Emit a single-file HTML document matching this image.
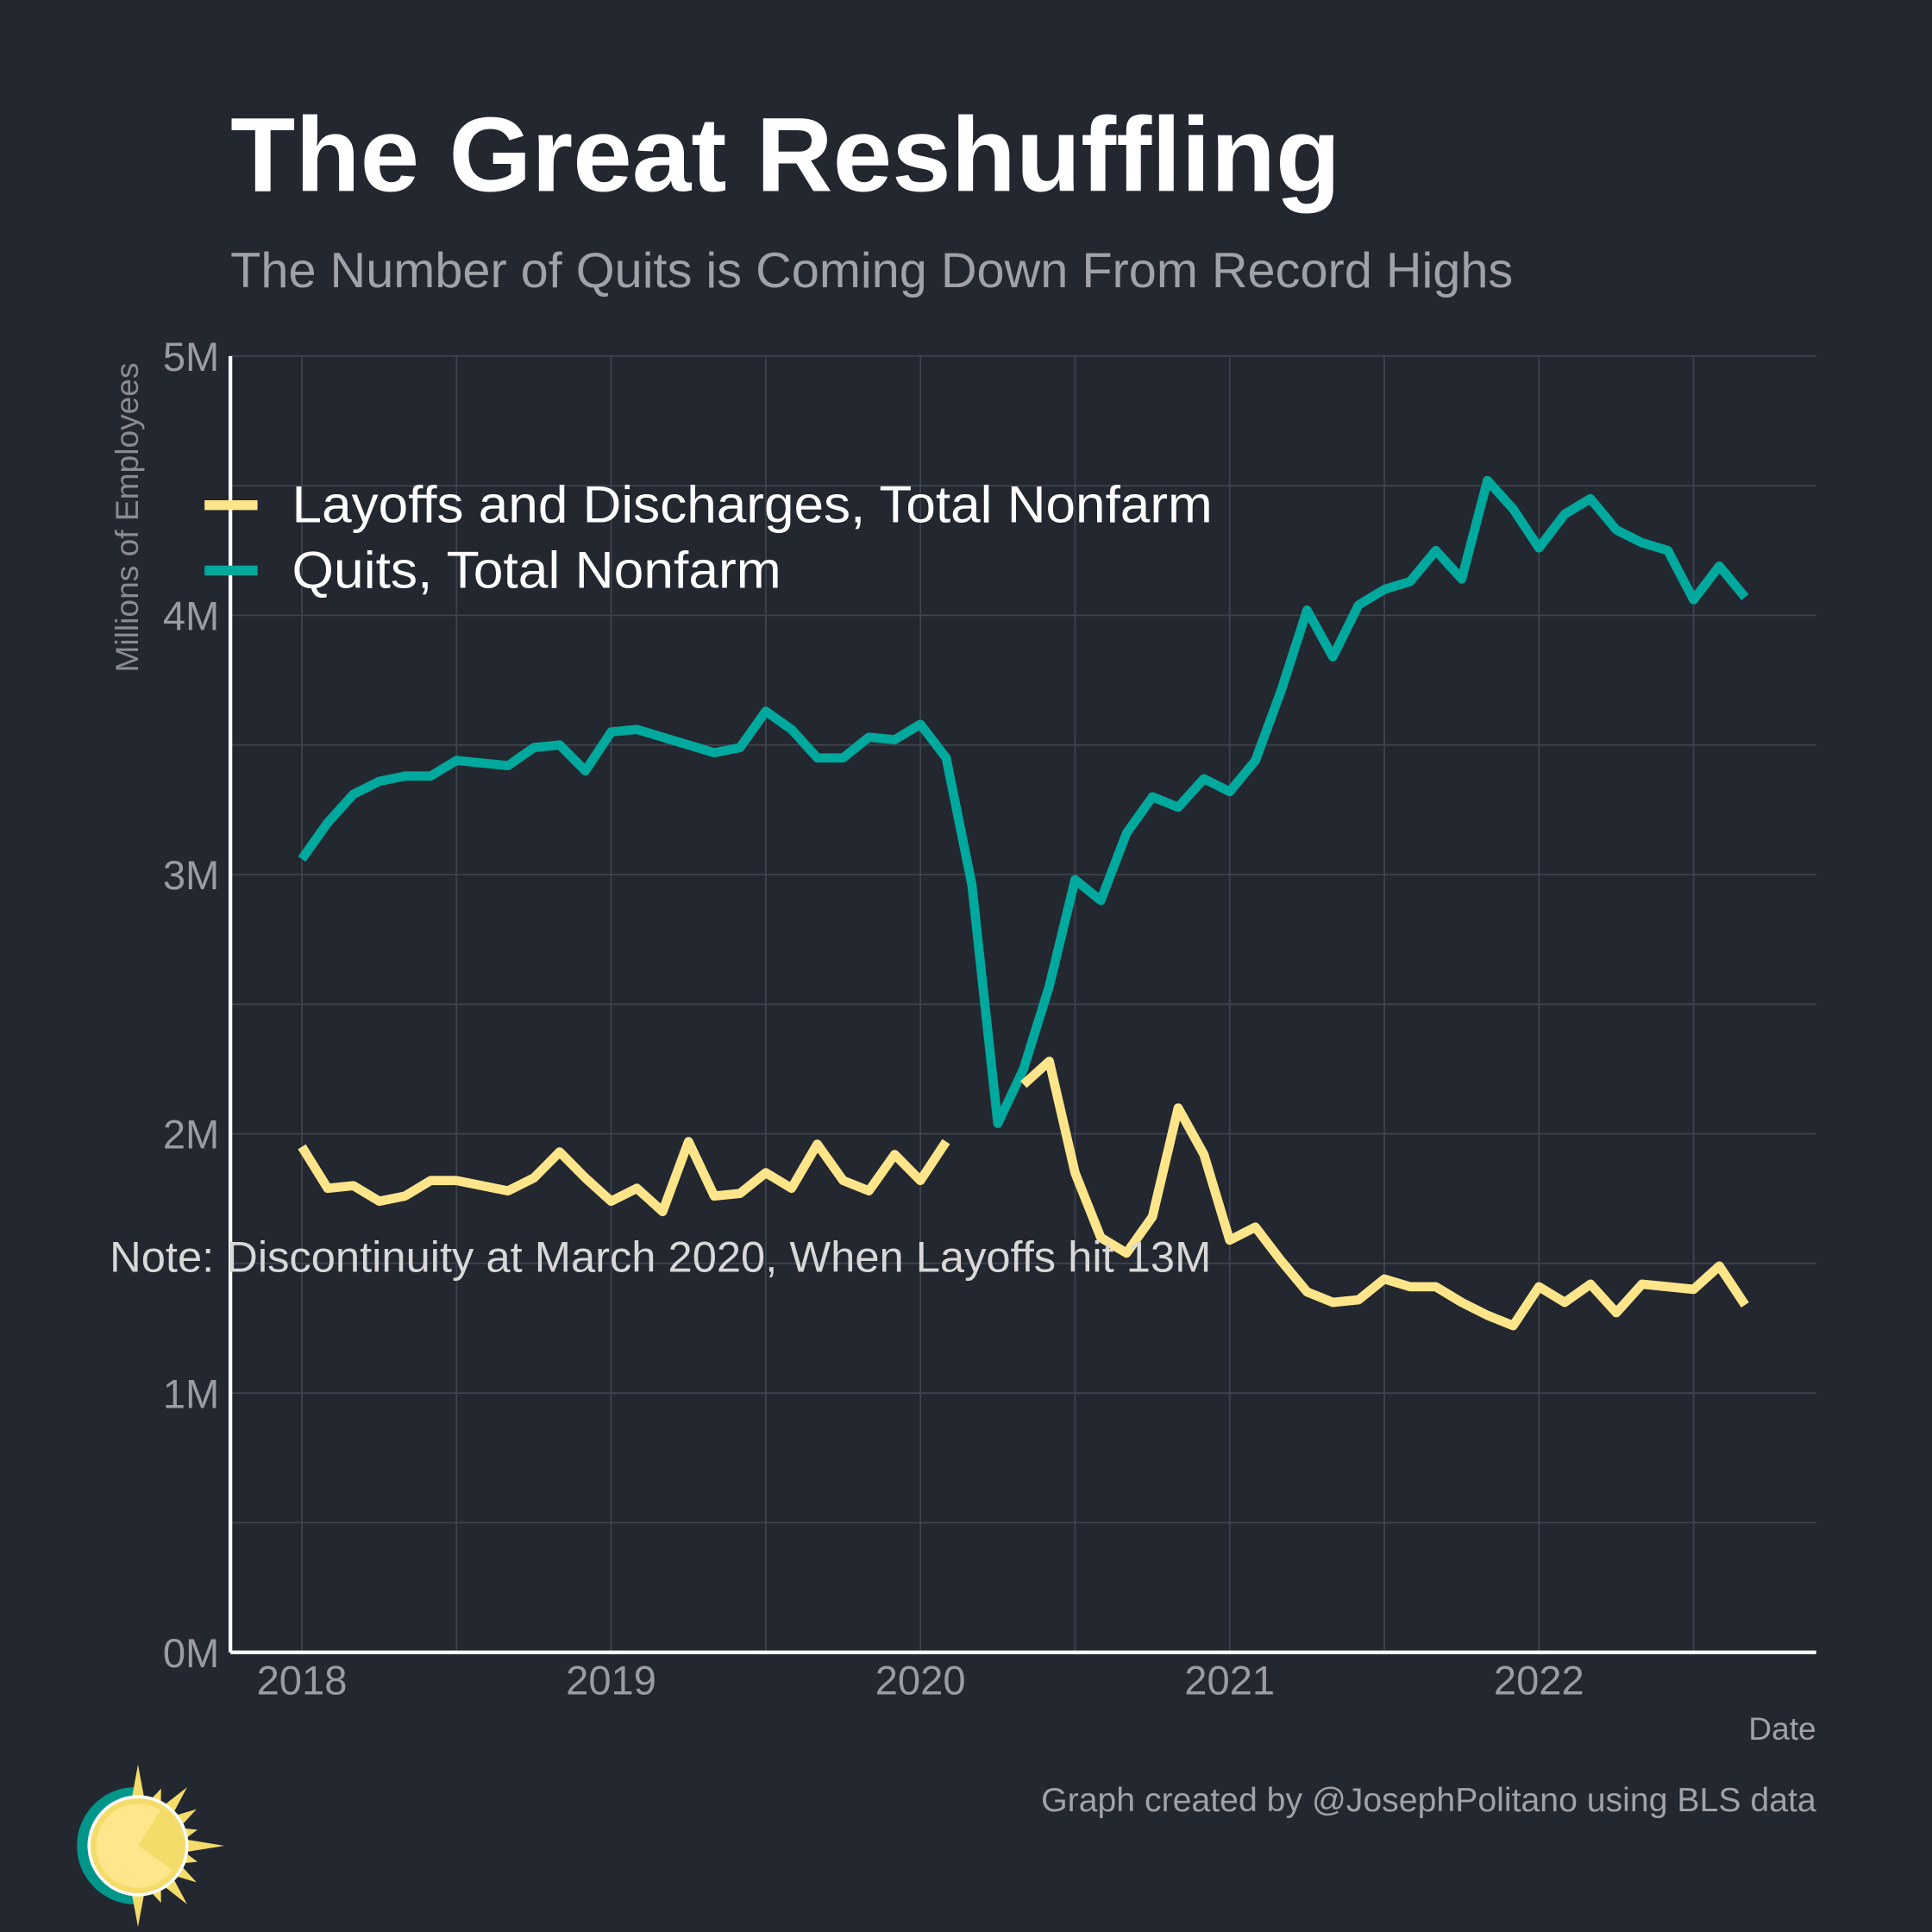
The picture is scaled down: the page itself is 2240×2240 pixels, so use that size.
<!DOCTYPE html>
<html><head><meta charset="utf-8"><style>
html,body{margin:0;padding:0;background:#232730;}
svg{display:block;font-family:"Liberation Sans",Arial,sans-serif;}
</style></head><body>
<svg id="chart" width="2240" height="2240" viewBox="0 0 1568 1568" xmlns="http://www.w3.org/2000/svg">
<rect width="1568" height="1568" fill="#232730"/>
<text x="187" y="155" font-size="86" font-weight="bold" fill="#ffffff" textLength="901" lengthAdjust="spacingAndGlyphs">The Great Reshuffling</text>
<text x="187" y="233" font-size="40" fill="#a0a2a8" textLength="1041" lengthAdjust="spacingAndGlyphs">The Number of Quits is Coming Down From Record Highs</text>
<g id="grid"></g>
<g id="yticks"></g>
<g id="xticks"></g>
<g id="series"></g>
<line x1="187" y1="289" x2="187" y2="1341" stroke="#ffffff" stroke-width="3"/>
<line x1="187" y1="1341" x2="1474" y2="1341" stroke="#ffffff" stroke-width="3"/>
<text transform="translate(112,420) rotate(-90)" text-anchor="middle" font-size="26" fill="#8a8c92">Millions of Employees</text>
<text x="1474" y="1412" text-anchor="end" font-size="26" fill="#a0a2a8">Date</text>
<g>
<g><line x1="166" y1="410" x2="209" y2="410" stroke="#ffe58a" stroke-width="8"/><text x="237" y="424" font-size="42" fill="#ffffff" textLength="747" lengthAdjust="spacingAndGlyphs">Layoffs and Discharges, Total Nonfarm</text></g>
<g><line x1="166" y1="463" x2="209" y2="463" stroke="#00a99d" stroke-width="8"/><text x="237" y="477" font-size="42" fill="#ffffff" textLength="397" lengthAdjust="spacingAndGlyphs">Quits, Total Nonfarm</text></g>
</g>
<text x="89" y="1032" font-size="35" fill="#d8d8d8" textLength="894" lengthAdjust="spacingAndGlyphs">Note: Discontinuity at March 2020, When Layoffs hit 13M</text>
<text x="1474" y="1470" text-anchor="end" font-size="27" fill="#a0a2a8" textLength="629" lengthAdjust="spacingAndGlyphs">Graph created by @JosephPolitano using BLS data</text>
<g>
<path d="M110 1450.4 A47.6 47.6 0 0 0 110 1545.6 Z" fill="#00968a"/>
<g id="spikes" fill="#f4dc6a"></g>
<circle cx="112" cy="1498" r="41" fill="#ffffff"/>
<circle cx="112" cy="1498" r="38.5" fill="#f4dc6a"/>
<path d="M112 1498 L130 1469.2 A34 34 0 1 0 139.9 1517.5 Z" fill="#ffe68c"/>
</g>
</svg>
<script>
const yTicks = [0,1,2,3,4,5];
const yTickLabels = ["0M","1M","2M","3M","4M","5M"];
const xTicks = [2018,2019,2020,2021,2022];
const xTickLabels = ["2018","2019","2020","2021","2022"];
const startYear = 2018;
const quits = [3.06,3.20,3.31,3.36,3.38,3.38,3.44,3.43,3.42,3.49,3.50,3.40,
3.55,3.56,3.53,3.50,3.47,3.49,3.63,3.56,3.45,3.45,3.53,3.52,
3.58,3.45,2.96,2.04,2.25,2.57,2.98,2.90,3.16,3.30,3.26,3.37,
3.32,3.44,3.71,4.02,3.84,4.04,4.10,4.13,4.25,4.14,4.52,4.41,
4.26,4.39,4.45,4.33,4.28,4.25,4.06,4.19,4.07];
const layoffs = [1.95,1.79,1.80,1.74,1.76,1.82,1.82,1.80,1.78,1.83,1.93,1.83,
1.74,1.79,1.70,1.97,1.76,1.77,1.85,1.79,1.96,1.82,1.78,1.92,
1.82,1.97,null,null,2.19,2.28,1.85,1.60,1.54,1.68,2.10,1.92,
1.59,1.64,1.51,1.39,1.35,1.36,1.44,1.41,1.41,1.35,1.30,1.26,
1.41,1.35,1.42,1.31,1.42,1.41,1.40,1.49,1.34];

const NS="http://www.w3.org/2000/svg";
const yScale = v => 1341 - v*210.4;
const xScale = m => 245 + m*(251/12);
function mk(tag, attrs, parent){const e=document.createElementNS(NS,tag);for(const k in attrs)e.setAttribute(k,attrs[k]);parent.appendChild(e);return e;}
const grid=document.getElementById('grid');
for(let v=0.5; v<=5; v+=0.5){
  const l=mk('line',{x1:187,x2:1474,y1:yScale(v),y2:yScale(v),stroke:'#3d424c','stroke-width':1.3},grid);
  
  
}
for(let m=0; xScale(m)<1474; m+=6){
  const l=mk('line',{x1:xScale(m),x2:xScale(m),y1:289,y2:1341,stroke:'#3d424c','stroke-width':1.3},grid);
  
  
}
const yt=document.getElementById('yticks');
yTicks.forEach((v,i)=>{
  const t=mk('text',{x:178,y:yScale(v)+12,'text-anchor':'end','font-size':33,fill:'#9a9ca2'},yt);
  t.textContent=yTickLabels[i];
  
  
});
const xt=document.getElementById('xticks');
xTicks.forEach((v,i)=>{
  const t=mk('text',{x:xScale((v-startYear)*12),y:1375,'text-anchor':'middle','font-size':33,fill:'#9a9ca2'},xt);
  t.textContent=xTickLabels[i];
  
  
});
function pathFor(arr){let d='',pen=false;arr.forEach((v,i)=>{if(v===null){pen=false;return;}d+=(pen?'L':'M')+xScale(i).toFixed(1)+' '+yScale(v).toFixed(1)+' ';pen=true;});return d;}
const s=document.getElementById('series');
const pq=mk('path',{d:pathFor(quits),fill:'none',stroke:'#00a99d','stroke-width':7.5,'stroke-linejoin':'round'},s);


const pl=mk('path',{d:pathFor(layoffs),fill:'none',stroke:'#ffe58a','stroke-width':7.5,'stroke-linejoin':'round'},s);


const sp=document.getElementById('spikes');
const spikes=[[-90,66],[-68,50],[-50,62],[-32,56],[-15,50],[0,70],[15,50],[32,56],[50,62],[68,50],[90,66]];
spikes.forEach(([a,len])=>{
  const r=a*Math.PI/180,w=9*Math.PI/180,cx=112,cy=1498;
  const p=[[cx+36*Math.cos(r-w),cy+36*Math.sin(r-w)],[cx+len*Math.cos(r),cy+len*Math.sin(r)],[cx+36*Math.cos(r+w),cy+36*Math.sin(r+w)]];
  const e=mk('polygon',{points:p.map(q=>q.join(',')).join(' ')},sp);
  
  
});
</script>
</body></html>
